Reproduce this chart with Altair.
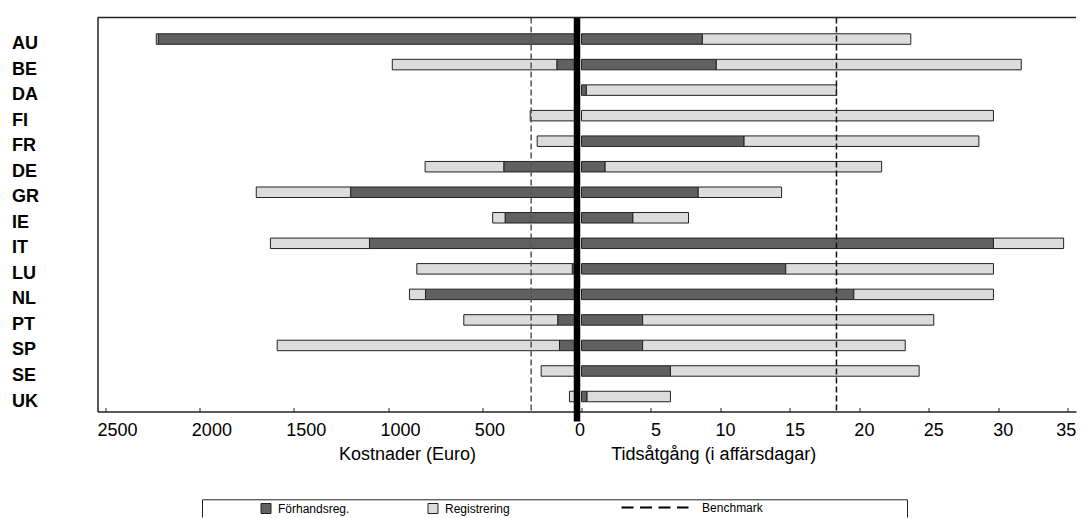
import altair as alt
import pandas as pd

FONT = "Liberation Sans"

countries = ["AU", "BE", "DA", "FI", "FR", "DE", "GR", "IE", "IT", "LU", "NL", "PT", "SP", "SE", "UK"]
cost_pre = [2220, 107, 0, 0, 0, 388, 1200, 381, 1100, 25, 803, 102, 93, 0, 0]
cost_reg = [10, 872, 0, 248, 211, 417, 500, 66, 525, 824, 85, 498, 1496, 190, 40]
days_pre = [8.7, 9.7, 0.35, 0, 11.7, 1.7, 8.4, 3.7, 29.65, 14.7, 19.6, 4.4, 4.4, 6.4, 0.4]
days_reg = [15.0, 21.95, 18.0, 29.65, 16.9, 19.9, 6.0, 4.0, 5.05, 14.95, 10.05, 20.95, 18.9, 17.9, 6.0]
segments = ["Förhandsreg.", "Registrering"]
seg_colors = ["#606060", "#dcdcdc"]
bench_name = ["Benchmark"]
bench_cost = [243]
bench_days = [18.35]
cost_ticks = [0, 500, 1000, 1500, 2000, 2500]
day_ticks = [0, 5, 10, 15, 20, 25, 30, 35]

W, H = 978.5, 394


def seg_frame(pre, reg):
    rows = []
    for c, a, b in zip(countries, pre, reg):
        if a > 0:
            rows.append({"country": c, "seg": segments[0], "start": 0, "end": a})
        if b > 0:
            rows.append({"country": c, "seg": segments[1], "start": a, "end": a + b})
    return pd.DataFrame(rows)


cost_df = seg_frame(cost_pre, cost_reg)
days_df = seg_frame(days_pre, days_reg)
bm_cost_df = pd.DataFrame({"v": bench_cost, "bm": bench_name})
bm_days_df = pd.DataFrame({"v": bench_days, "bm": bench_name})
one = pd.DataFrame({"z": [0]})

cost_scale = alt.Scale(domain=[0, 2541.5], range=[479.5, 0], nice=False, zero=False)
day_scale = alt.Scale(domain=[-0.324, 35.59], range=[479.5, W], nice=False, zero=False)
y_scale = alt.Scale(domain=countries, paddingInner=0.589, paddingOuter=0.51, align=0.626)

y_axis = alt.Axis(
    orient="left", title=None, ticks=False, tickSize=0, domain=True,
    domainColor="#222222", domainWidth=1.5, labelAlign="left", labelBaseline="middle",
    labelPadding=86, labelOffset=5, labelFont=FONT, labelFontSize=18,
    labelFontWeight="bold", labelColor="black", grid=False,
)
Y = alt.Y("country:N", scale=y_scale, axis=y_axis)

common_lab = dict(
    ticks=False, tickSize=0, domain=True, domainColor="#222222", domainWidth=1.5,
    labelFont=FONT, labelFontSize=18, labelColor="black", labelBaseline="alphabetic",
    labelPadding=23.5, labelFlush=False, labelOverlap=False, grid=False,
    titleFont=FONT, titleFontSize=18, titleFontWeight="normal", titleColor="black",
    titleAlign="center", titleBaseline="alphabetic", titleY=48,
)

cost_axis = alt.Axis(
    orient="bottom", values=cost_ticks, format="d", labelAlign="left",
    labelOffset={"condition": {"test": "datum.value == 0", "value": -2.5}, "value": -8.3},
    title="Kostnader (Euro)", titleX=309.5, **common_lab,
)
day_axis = alt.Axis(
    orient="bottom", values=day_ticks, format="d", labelAlign="center",
    labelOffset={"condition": {"test": "datum.value == 35", "value": -2}, "value": 4.5},
    labelExpr="datum.value == 0 ? '' : datum.label",
    title="Tidsåtgång (i affärsdagar)", titleX=615.8, **common_lab,
)


def tick_axis(vals):
    return alt.Axis(
        orient="top", offset=-H, values=vals, labels=False, domain=False, ticks=True,
        tickSize=4, tickColor="#222222", tickWidth=1, title=None, grid=False,
    )


color_legend = alt.Legend(
    orient="none", legendX=162.5, legendY=485, direction="horizontal", title=None,
    symbolType="square", symbolSize=100, symbolStrokeColor="#222222", symbolStrokeWidth=1,
    labelFont=FONT, labelFontSize=12, labelColor="black", labelOffset=6,
    columnPadding=76, padding=0,
)
color = alt.Color("seg:N", scale=alt.Scale(domain=segments, range=seg_colors), legend=color_legend)

dash_legend = alt.Legend(
    orient="none", legendX=523, legendY=484, direction="horizontal", title=None,
    symbolSize=4489, symbolStrokeColor="black", symbolStrokeWidth=2,
    clipHeight=12, labelFont=FONT, labelFontSize=12, labelColor="black", labelOffset=12.6,
    padding=0,
)
dash = alt.StrokeDash("bm:N", scale=alt.Scale(domain=bench_name, range=[[12, 6.5]]), legend=dash_legend)

cost_bars = alt.Chart(cost_df).mark_bar(stroke="#222222", strokeWidth=1).encode(
    x=alt.X("start:Q", scale=cost_scale, axis=cost_axis),
    x2="end:Q",
    y=Y,
    color=color,
)
day_bars = alt.Chart(days_df).mark_bar(stroke="#222222", strokeWidth=1).encode(
    x=alt.X("start:Q", scale=day_scale, axis=day_axis),
    x2="end:Q",
    y=Y,
    color=color,
)
rule_cost = alt.Chart(bm_cost_df).mark_rule(stroke="#555555", strokeWidth=1.5, strokeDash=[6, 3]).encode(
    x=alt.X("v:Q", scale=cost_scale, axis=tick_axis(cost_ticks)),
)
rule_days = alt.Chart(bm_days_df).mark_rule(stroke="#111111", strokeWidth=1.5, strokeDash=[6, 3]).encode(
    x=alt.X("v:Q", scale=day_scale, axis=tick_axis(day_ticks)),
)
# zero-length carrier of the "Benchmark" legend entry (hidden under the zero line)
bm_key = alt.Chart(bm_cost_df).mark_rule(stroke="black", strokeWidth=2).encode(
    x=alt.value(479.5), y=alt.value(0), y2=alt.value(0),
    strokeDash=dash,
)
zero_rule = alt.Chart(one).mark_rule(stroke="black", strokeWidth=6.5).encode(
    x=alt.X("z:Q", scale=cost_scale, axis=None),
    y=alt.value(0),
    y2=alt.value(H + 10),
)
top_frame = alt.Chart(one).mark_rule(stroke="#222222", strokeWidth=1.5).encode(
    x=alt.value(0), x2=alt.value(W), y=alt.value(0),
)
# legend frame (its bottom edge lies below the visible window in the reference)
box_top = alt.Chart(one).mark_rule(stroke="#222222", strokeWidth=1).encode(
    x=alt.value(105), x2=alt.value(810), y=alt.value(482.3),
)
box_left = alt.Chart(one).mark_rule(stroke="#222222", strokeWidth=1).encode(
    x=alt.value(105), y=alt.value(482.3), y2=alt.value(500),
)
box_right = alt.Chart(one).mark_rule(stroke="#222222", strokeWidth=1).encode(
    x=alt.value(810), y=alt.value(482.3), y2=alt.value(500),
)

chart = (
    alt.layer(box_top, box_left, box_right, cost_bars, day_bars, rule_cost, rule_days,
              bm_key, zero_rule, top_frame)
    .resolve_scale(x="independent")
    .properties(width=W, height=H, padding={"left": 3.5, "top": 5.5, "right": 0, "bottom": 0},
                background="white")
    .configure(font=FONT)
    .configure_view(stroke="transparent")
)

chart.save("out.html", embed_options={"renderer": "svg", "actions": False})
